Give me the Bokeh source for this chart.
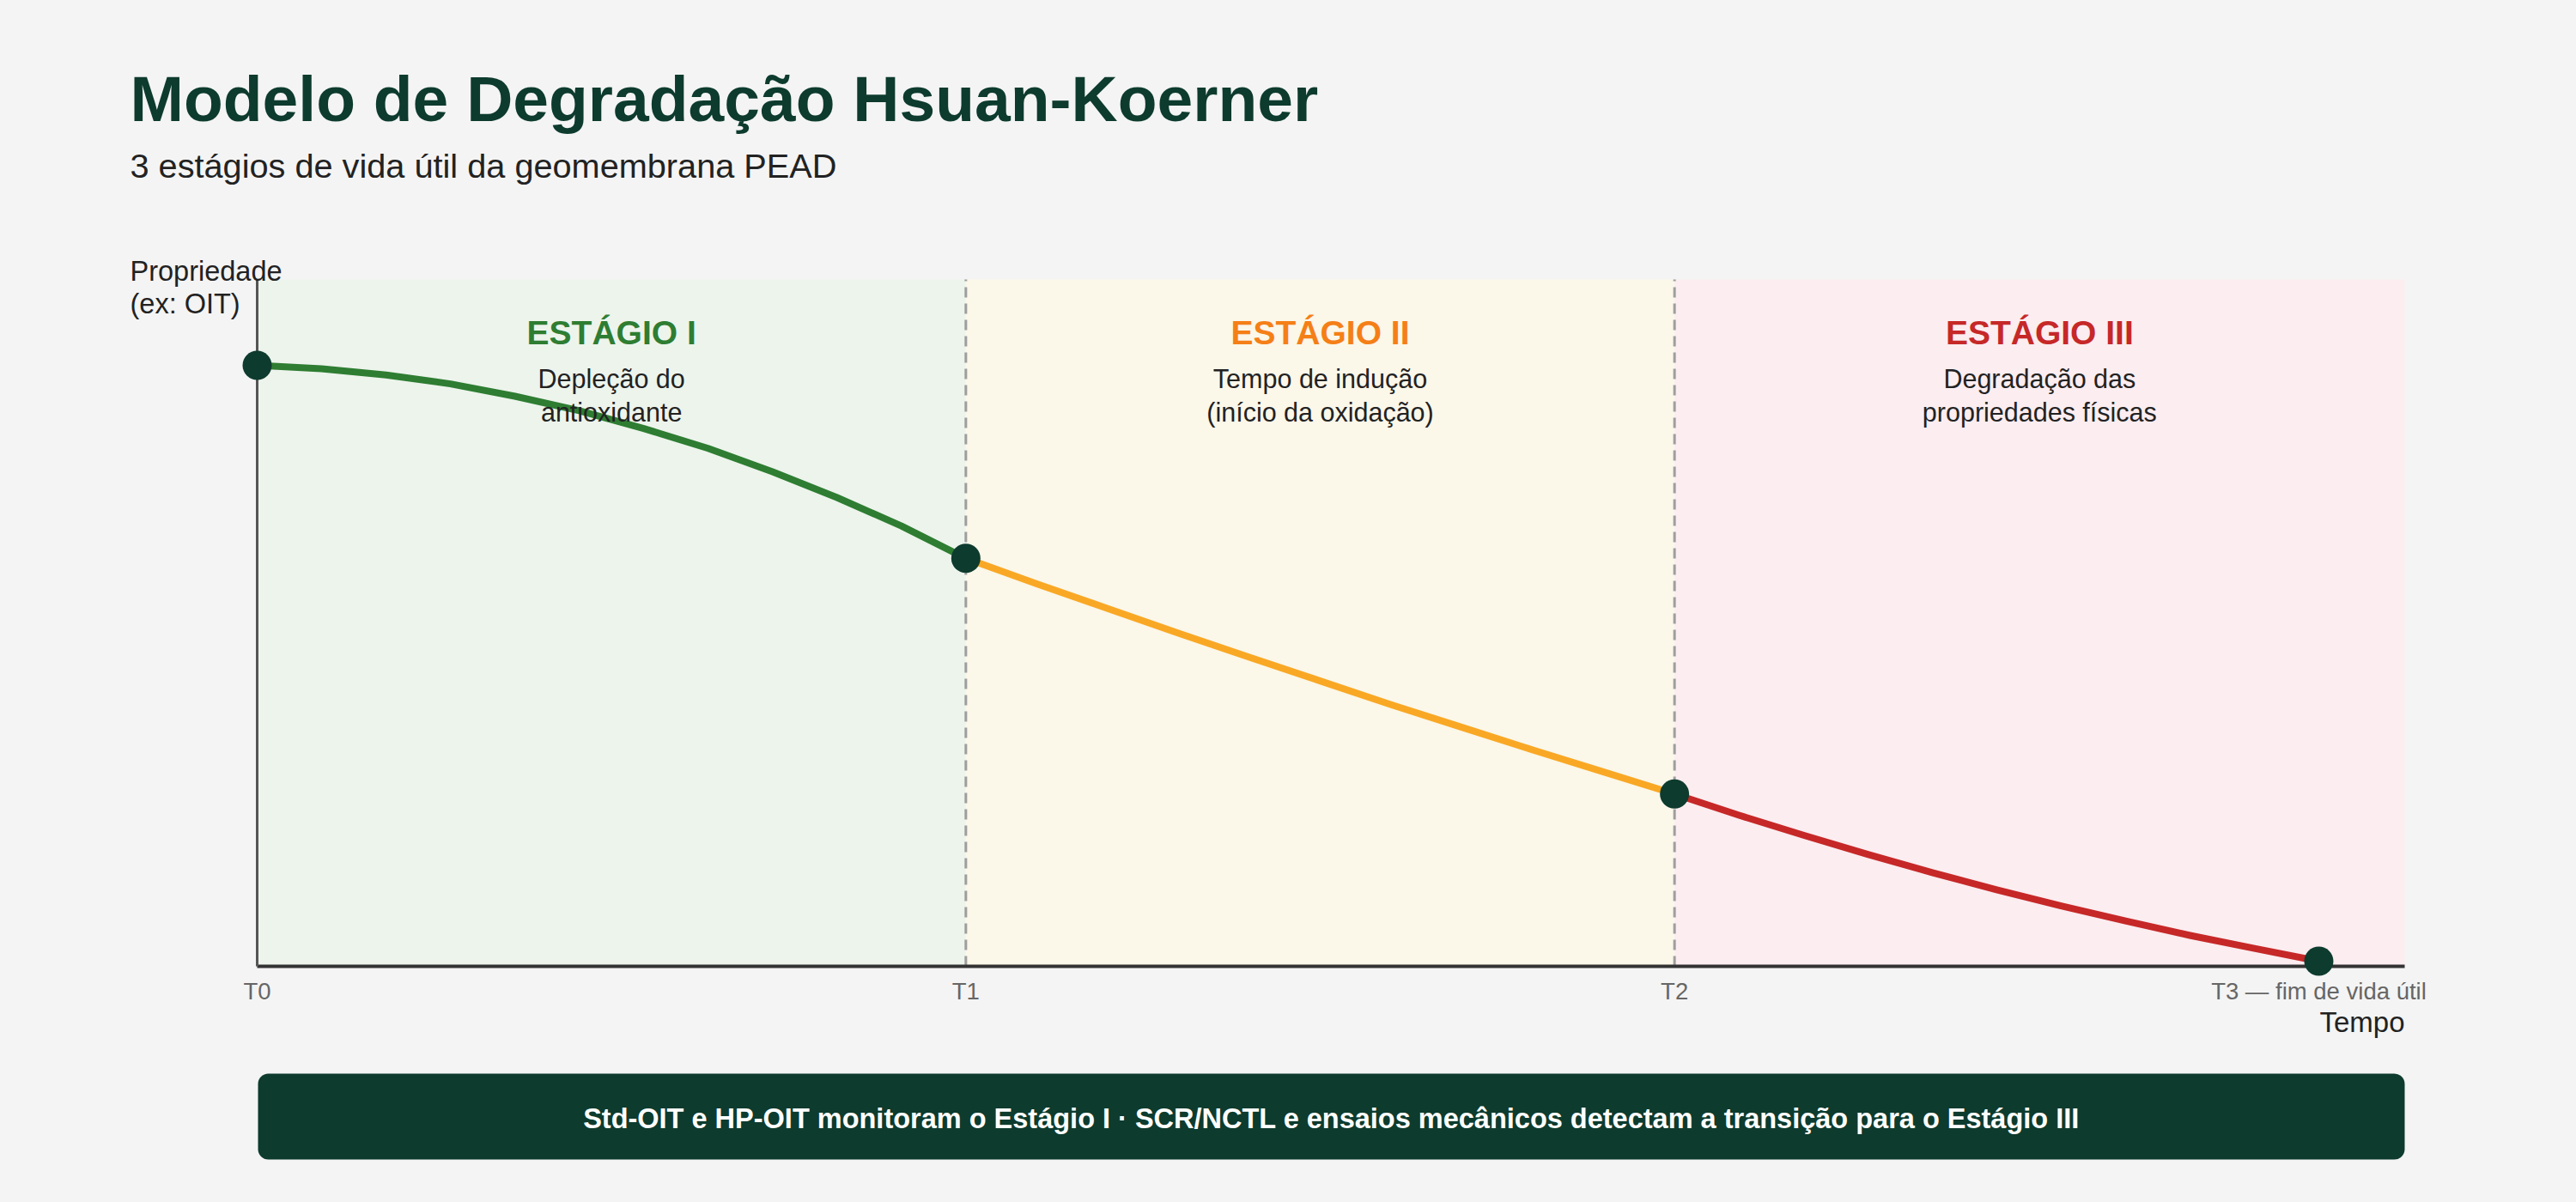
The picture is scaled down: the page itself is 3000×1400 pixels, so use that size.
from bokeh.plotting import figure
from bokeh.models import Range1d, BoxAnnotation, ColumnDataSource
from bokeh.core.properties import value
from bokeh.embed import file_html
from bokeh.resources import INLINE

# ---------------- data ----------------
milestone_x = [0, 33, 66, 96]
milestone_y = [87.5, 59.4, 25.1, 0.75]
tick_labels = ["T0", "T1", "T2", "T3 — fim de vida útil"]

stage_left = [0, 33, 66]
stage_right = [33, 66, 100]
stage_titles = ["ESTÁGIO I", "ESTÁGIO II", "ESTÁGIO III"]
stage_desc1 = ["Depleção do", "Tempo de indução", "Degradação das"]
stage_desc2 = ["antioxidante", "(início da oxidação)", "propriedades físicas"]

stage1_x = [0, 3, 6, 9, 12, 15, 18, 21, 24, 27, 30, 33]
stage1_y = [87.5, 87.0, 86.1, 84.8, 83.0, 80.9, 78.3, 75.4, 72.0, 68.25, 64.1, 59.4]
stage2_x = [33, 36.3, 39.6, 42.9, 46.2, 49.5, 52.8, 56.1, 59.4, 62.7, 66]
stage2_y = [59.4, 55.7, 52.1, 48.5, 45.0, 41.55, 38.1, 34.8, 31.5, 28.3, 25.1]
stage3_x = [66, 69, 72, 75, 78, 81, 84, 87, 90, 93, 96]
stage3_y = [25.1, 22.0, 19.1, 16.3, 13.65, 11.15, 8.8, 6.6, 4.5, 2.6, 0.75]

title_text = "Modelo de Degradação Hsuan-Koerner"
subtitle_text = "3 estágios de vida útil da geomembrana PEAD"
y_label_lines = ["Propriedade", "(ex: OIT)"]
x_label_text = "Tempo"
banner_text = ("Std-OIT e HP-OIT monitoram o Estágio I · SCR/NCTL e ensaios "
               "mecânicos detectam a transição para o Estágio III")

# ---------------- style ----------------
BG = "#f4f4f4"
DARK = "#0d3b2e"
FONT = "Liberation Sans"
stage_fill = ["#edf4ec", "#fbf7e9", "#fbedf0"]
stage_color = ["#2e7d32", "#f9a825", "#c62828"]
stage_title_color = ["#2e7d32", "#f57f17", "#c62828"]

W, H = 3000, 1400
# chart area in page pixels
FL, FR, FT, FB = 299, 2800, 325, 1125
BASE_SHIFT = 0.3  # empirical correction of the alphabetic baseline (fraction of font size)


def px_x(px):
    return (px - FL) / (FR - FL) * 100.0


def px_y(py):
    return (FB - py) / (FB - FT) * 100.0


def base_y(py, size):
    return px_y(py - BASE_SHIFT * size)


p = figure(width=W, height=H, output_backend="svg", toolbar_location=None,
           x_range=Range1d(px_x(0), px_x(W)), y_range=Range1d(px_y(H), px_y(0)),
           x_axis_type=None, y_axis_type=None,
           min_border=0, min_border_left=0, min_border_right=0,
           min_border_top=0, min_border_bottom=0)
p.background_fill_color = BG
p.border_fill_color = BG
p.outline_line_color = None
p.grid.visible = False

# bottom banner (under the glyphs so that its text stays visible)
p.add_layout(BoxAnnotation(left=px_x(300), right=px_x(2800),
                           top=px_y(1250), bottom=px_y(1350),
                           fill_color=DARK, fill_alpha=1.0, line_color=None,
                           border_radius=12, level="underlay"))

# stage backgrounds
p.quad(left=stage_left, right=stage_right, bottom=0, top=100,
       fill_color=stage_fill, line_color=None)

# dashed separators
p.segment(x0=milestone_x[1:3], y0=[0, 0], x1=milestone_x[1:3], y1=[100, 100],
          line_color="#9e9e9e", line_width=3, line_dash="12 7")

# axis lines
p.segment(x0=[0], y0=[0], x1=[100], y1=[0], line_color="#333333", line_width=4)
p.segment(x0=[0], y0=[0], x1=[0], y1=[100], line_color="#555555", line_width=3)

# curves
for xs, ys, c in [(stage1_x, stage1_y, stage_color[0]),
                  (stage2_x, stage2_y, stage_color[1]),
                  (stage3_x, stage3_y, stage_color[2])]:
    p.line(xs, ys, line_color=c, line_width=8, line_cap="round", line_join="round")

p.scatter(milestone_x, milestone_y, size=34, fill_color=DARK, line_color=None)


def text(xs, baseline_px, texts, size, color, bold=False, align="left"):
    if not isinstance(baseline_px, list):
        baseline_px = [baseline_px] * len(xs)
    p.text(x=xs, y=[base_y(b, size) for b in baseline_px], text=texts,
           text_font=value(FONT), text_font_size=value(f"{size}px"), text_color=color,
           text_font_style="bold" if bold else "normal",
           text_align=align, text_baseline="alphabetic")


# tick labels
text(milestone_x, 1162, tick_labels, 27.5, "#666666", align="center")

# title & subtitle
text([px_x(151)], 137, [title_text], 75, DARK, bold=True)
text([px_x(151)], 204, [subtitle_text], 39.7, "#222222")

# y axis label
text([px_x(151)] * 2, [325, 363], y_label_lines, 32.5, "#222222")

# x axis label
text([100], 1200, [x_label_text], 33, "#222222", align="right")

# stage annotations
centers = [(a + b) / 2 for a, b in zip(stage_left, stage_right)]
src = ColumnDataSource(dict(x=centers, t=stage_titles, c=stage_title_color,
                            d1=stage_desc1, d2=stage_desc2))
p.text(x="x", y=base_y(399, 39), text="t", text_color="c", source=src,
       text_font=value(FONT), text_font_size=value("39px"), text_font_style="bold",
       text_align="center", text_baseline="alphabetic")
p.text(x="x", y=base_y(450, 30.5), text="d1", text_color="#222222", source=src,
       text_font=value(FONT), text_font_size=value("30.5px"),
       text_align="center", text_baseline="alphabetic")
p.text(x="x", y=base_y(489, 30.5), text="d2", text_color="#222222", source=src,
       text_font=value(FONT), text_font_size=value("30.5px"),
       text_align="center", text_baseline="alphabetic")

# banner text
text([px_x(1550)], 1312, [banner_text], 32.5, "#ffffff", bold=True, align="center")

html = file_html(p, INLINE)
html = html.replace("<head>",
                    "<head><style>html,body{margin:0;padding:0;background:#f4f4f4;overflow:hidden;}</style>", 1)
open("out.html", "w").write(html)
